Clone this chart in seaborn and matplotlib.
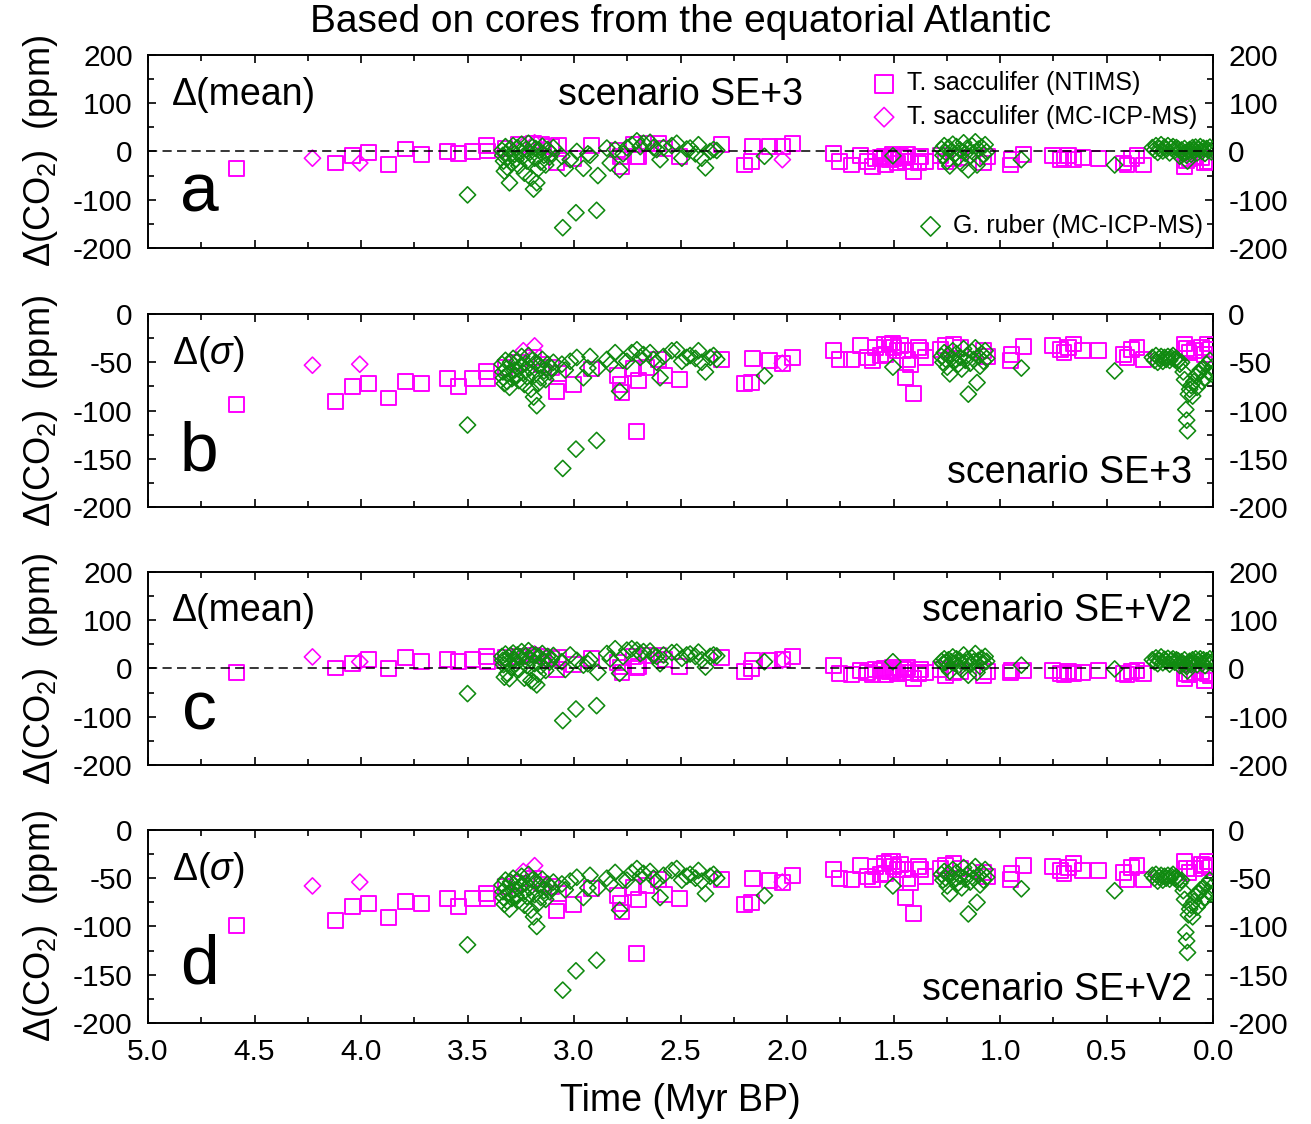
import matplotlib
matplotlib.use("Agg")
import matplotlib.pyplot as plt
from matplotlib.ticker import MultipleLocator, FormatStrFormatter
import pandas as pd
import seaborn as sns

# ---------------------------------------------------------------------------
# T. sacculifer (NTIMS): age (Myr BP) and Delta(CO2) (ppm) per scenario/statistic
# ---------------------------------------------------------------------------
ntims_age = [4.583, 4.119, 4.038, 3.966, 3.872, 3.793, 3.718, 3.594, 3.541, 3.476,
             3.410, 3.405, 3.324, 3.261, 3.190, 3.152, 3.104, 3.073, 3.081, 3.003,
             2.916, 2.794, 2.783, 2.775, 2.720, 2.708, 2.698, 2.659, 2.604, 2.573,
             2.503, 2.306, 2.198, 2.168, 2.162, 2.081, 2.022, 1.976, 1.780, 1.754,
             1.696, 1.654, 1.624, 1.600, 1.585, 1.561, 1.545, 1.538, 1.520, 1.507,
             1.499, 1.483, 1.468, 1.452, 1.444, 1.436, 1.421, 1.405, 1.381, 1.374,
             1.350, 1.279, 1.256, 1.217, 1.186, 1.076, 1.060, 0.950, 0.945, 0.891,
             0.755, 0.716, 0.700, 0.677, 0.655, 0.615, 0.536, 0.420, 0.404, 0.381,
             0.357, 0.326, 0.136, 0.125, 0.113, 0.089, 0.054, 0.042, 0.026, 0.010]
ntims_mean_se3 = [-36, -24, -9, -2, -27, 5, -7, 0, -5, 0,
                  12, 1, 7, 14, 17, 14, 10, 12, -24, -14,
                  12, 3, -10, -31, 14, -10, -10, 17, 17, 7,
                  -10, 15, -28, -21, 10, 10, 10, 16, -5, -21,
                  -28, -9, -20, -31, -14, -12, -10, -28, -17, -7,
                  -15, -24, -10, -12, -21, -7, -20, -41, -24, -10,
                  -21, -9, -21, -15, -12, -24, -10, -28, -17, -7,
                  -9, -17, -14, -9, -17, -12, -14, -24, -28, -14,
                  -9, -28, -31, -18, -14, -10, -12, -24, -20, -21]
ntims_sigma_se3 = [-94, -91, -75, -72, -87, -70, -72, -67, -75, -67,
                   -60, -67, -55, -50, -45, -52, -55, -62, -80, -73,
                   -57, -64, -73, -81, -56, -122, -69, -55, -47, -64,
                   -68, -47, -72, -71, -46, -48, -51, -45, -38, -47,
                   -47, -33, -45, -48, -35, -43, -32, -42, -31, -30,
                   -35, -38, -33, -38, -66, -47, -52, -82, -35, -38,
                   -45, -37, -33, -31, -35, -38, -44, -48, -42, -34,
                   -33, -37, -40, -35, -31, -38, -38, -42, -45, -37,
                   -35, -47, -31, -36, -40, -38, -35, -42, -31, -37]
ntims_mean_sev2 = [-8, 1, 10, 19, 0, 23, 14, 19, 14, 19,
                   24, 14, 22, 25, 28, 26, 20, 22, -3, 8,
                   20, 12, 3, -8, 25, 1, 5, 27, 28, 18,
                   5, 22, -7, 0, 17, 17, 19, 24, 7, -10,
                   -12, -5, -8, -12, -3, -5, 0, -12, -6, 2,
                   -4, -10, 0, -3, -8, 2, -8, -20, -10, -2,
                   -8, -3, -15, -8, -6, -15, -7, -8, -4, -5,
                   -5, -10, -12, -6, -10, -8, -5, -10, -12, -7,
                   -5, -10, -21, -10, -12, -8, -7, -24, -10, -14]
ntims_sigma_sev2 = [-99, -94, -79, -76, -91, -74, -76, -71, -79, -71,
                    -66, -71, -59, -55, -50, -56, -59, -66, -84, -77,
                    -61, -68, -76, -85, -60, -128, -72, -58, -51, -67,
                    -71, -51, -77, -75, -50, -52, -54, -47, -41, -50,
                    -51, -37, -48, -51, -38, -46, -35, -45, -33, -33,
                    -38, -41, -36, -41, -70, -50, -55, -87, -38, -41,
                    -48, -40, -37, -35, -40, -44, -48, -51, -45, -37,
                    -38, -42, -45, -39, -35, -42, -42, -44, -51, -39,
                    -37, -51, -33, -40, -44, -40, -36, -37, -33, -39]

# ---------------------------------------------------------------------------
# T. sacculifer (MC-ICP-MS)
# ---------------------------------------------------------------------------
sacc_icp_age = [4.228, 4.006, 3.238, 3.185, 2.022]
sacc_icp_mean_se3 = [-14, -24, 12, 18, -17]
sacc_icp_sigma_se3 = [-53, -52, -38, -33, -51]
sacc_icp_mean_sev2 = [24, 14, 25, 30, 17]
sacc_icp_sigma_sev2 = [-58, -54, -43, -37, -54]

# ---------------------------------------------------------------------------
# G. ruber (MC-ICP-MS)
# ---------------------------------------------------------------------------
ruber_age = [3.338, 3.334, 3.331, 3.327, 3.322, 3.318, 3.314, 3.309, 3.303, 3.298,
             3.292, 3.286, 3.279, 3.272, 3.266, 3.259, 3.252, 3.246, 3.239, 3.233,
             3.227, 3.221, 3.214, 3.208, 3.202, 3.196, 3.190, 3.185, 3.180, 3.175,
             3.168, 3.163, 3.156, 3.149, 3.141, 3.133, 3.124, 3.115, 3.106, 3.097,
             3.057, 3.041, 3.018, 2.987, 2.956, 2.935, 2.925, 2.888, 2.846, 2.830,
             2.807, 2.786, 2.770, 2.752, 2.729, 2.705, 2.689, 2.674, 2.643, 2.627,
             2.612, 2.596, 2.580, 2.541, 2.518, 2.494, 2.471, 2.455, 2.430, 2.416,
             2.400, 2.383, 2.361, 2.345, 2.330, 2.106,
             3.500, 3.053, 2.991, 2.894, 1.503,
             1.275, 1.268, 1.262, 1.255, 1.248, 1.242, 1.236, 1.229, 1.222, 1.214,
             1.205, 1.196, 1.188, 1.180, 1.171, 1.163, 1.155, 1.149, 1.140, 1.132,
             1.124, 1.116, 1.108, 1.101, 1.094, 1.086, 1.078, 1.070, 1.063,
             0.900, 0.462,
             0.285, 0.275, 0.268, 0.260, 0.252, 0.244, 0.236, 0.228, 0.220, 0.212,
             0.204, 0.196, 0.188, 0.180, 0.172, 0.164, 0.156, 0.148, 0.140, 0.134,
             0.128, 0.124, 0.120, 0.116, 0.110, 0.103, 0.096, 0.090, 0.082, 0.075,
             0.068, 0.060, 0.052, 0.045, 0.038, 0.030, 0.022, 0.015, 0.008, 0.003]
ruber_mean_se3 = [2, -8, -20, -41, 10, -4, -33, -12, -65, 5,
                  -25, 12, -6, -16, 8, -30, 0, 15, -10, -45,
                  4, -20, 17, -2, -55, 9, -78, -14, 6, -65,
                  -36, 2, -22, 11, -8, -28, 4, -12, -4, 8,
                  -10, -35, -17, 0, -35, -5, -8, -50, 7, -24,
                  4, -38, -5, 8, 14, 22, 10, 17, 19, 8,
                  4, -17, 8, 12, 17, -14, 5, 7, -5, 14,
                  -14, -34, 0, 4, 2, -10,
                  -90, -158, -127, -122, -9,
                  5, -8, 12, -2, -20, 8, -30, 0, 15, -6,
                  10, -12, 3, -25, 18, -4, 7, -38, -10, 12,
                  -3, 20, -28, 5, -15, 9, -6, 14, -1,
                  -17, -28,
                  8, 3, 12, -2, 6, 14, 1, 9, 4, 12,
                  -3, 7, 10, 2, 8, 5, -10, 3, -5, 6,
                  -2, -8, -20, 1, 4, -6, 8, 2, 9, -3,
                  5, 10, 0, 7, -4, 6, 2, 9, -1, 4]
ruber_sigma_se3 = [-52, -60, -66, -72, -48, -57, -70, -62, -76, -50,
                   -67, -46, -58, -64, -49, -69, -54, -44, -61, -73,
                   -51, -65, -43, -56, -78, -48, -86, -63, -50, -95,
                   -72, -53, -66, -47, -59, -68, -52, -60, -56, -50,
                   -52, -58, -49, -45, -66, -56, -44, -56, -47, -52,
                   -40, -80, -48, -49, -40, -37, -45, -42, -40, -47,
                   -50, -66, -44, -38, -37, -49, -45, -43, -46, -38,
                   -50, -60, -45, -43, -47, -64,
                   -115, -160, -140, -131, -55,
                   -44, -50, -40, -47, -55, -42, -62, -46, -38, -49,
                   -41, -52, -45, -57, -36, -48, -43, -83, -51, -39,
                   -47, -35, -71, -44, -54, -41, -49, -38, -46,
                   -56, -59,
                   -45, -48, -43, -50, -46, -44, -49, -45, -47, -44,
                   -48, -45, -43, -47, -46, -48, -52, -50, -60, -68,
                   -99, -110, -121, -83, -78, -74, -85, -70, -64, -76,
                   -62, -58, -70, -56, -66, -52, -60, -48, -62, -55]
ruber_mean_sev2 = [25, 17, 8, -18, 30, 20, -10, 12, -21, 27,
                   3, 32, 18, 10, 28, -2, 24, 35, 14, -20,
                   26, 6, 37, 21, -25, 30, -28, 10, 28, -34,
                   -12, 24, 5, 31, 16, -4, 25, 13, 20, 27,
                   14, -2, 28, 17, 7, 10, 18, -8, 31, 20,
                   41, -10, 25, 38, 41, 38, 31, 35, 36, 27,
                   25, 10, 28, 33, 34, 21, 28, 30, 25, 34,
                   18, 3, 25, 28, 26, 14,
                   -52, -108, -84, -77, 14,
                   15, 10, 20, 13, 3, 18, -6, 14, 24, 11,
                   20, 6, 16, -2, 28, 12, 19, -14, 8, 22,
                   14, 31, -8, 17, 4, 21, 11, 25, 15,
                   7, -1,
                   18, 14, 22, 10, 17, 24, 12, 19, 15, 21,
                   9, 17, 20, 13, 18, 16, 6, 14, 10, 18,
                   8, 4, -5, 12, 15, 8, 18, 12, 20, 8,
                   16, 20, 10, 18, 6, 16, 14, 20, 12, 15]
ruber_sigma_sev2 = [-57, -64, -70, -77, -52, -60, -74, -66, -82, -54,
                    -71, -50, -62, -68, -53, -73, -58, -48, -65, -78,
                    -55, -69, -46, -60, -83, -52, -90, -67, -53, -100,
                    -76, -57, -70, -51, -63, -72, -56, -64, -60, -54,
                    -56, -62, -53, -49, -70, -60, -47, -60, -50, -56,
                    -44, -83, -52, -52, -44, -40, -48, -45, -43, -50,
                    -53, -70, -47, -42, -40, -52, -48, -46, -50, -42,
                    -53, -66, -48, -46, -50, -68,
                    -119, -166, -146, -135, -58,
                    -46, -52, -43, -50, -58, -45, -66, -49, -41, -52,
                    -44, -55, -48, -60, -39, -51, -46, -87, -54, -42,
                    -50, -38, -75, -47, -57, -44, -52, -41, -49,
                    -61, -63,
                    -47, -50, -46, -53, -49, -47, -52, -48, -50, -47,
                    -51, -48, -46, -50, -49, -51, -55, -52, -63, -72,
                    -106, -115, -127, -88, -82, -78, -90, -74, -68, -80,
                    -66, -62, -74, -60, -70, -56, -64, -52, -66, -58]

# Panel captions
panel_tags = ["a", "b", "c", "d"]
panel_stats = ["Δ(mean)", "Δ($\\sigma$)", "Δ(mean)", "Δ($\\sigma$)"]
panel_scenarios = ["scenario SE+3", "scenario SE+3", "scenario SE+V2", "scenario SE+V2"]
series_labels = ["T. sacculifer (NTIMS)", "T. sacculifer (MC-ICP-MS)", "G. ruber (MC-ICP-MS)"]

# ---------------------------------------------------------------------------
# Long-format tables
# ---------------------------------------------------------------------------
panel_keys = ["mean_se3", "sigma_se3", "mean_sev2", "sigma_sev2"]


def long_table(age, *cols):
    frames = []
    for key, vals in zip(panel_keys, cols):
        frames.append(pd.DataFrame({"age": age, "panel": key, "dco2": vals}))
    return pd.concat(frames, ignore_index=True)


ntims = long_table(ntims_age, ntims_mean_se3, ntims_sigma_se3,
                   ntims_mean_sev2, ntims_sigma_sev2)
sacc_icp = long_table(sacc_icp_age, sacc_icp_mean_se3, sacc_icp_sigma_se3,
                      sacc_icp_mean_sev2, sacc_icp_sigma_sev2)
ruber = long_table(ruber_age, ruber_mean_se3, ruber_sigma_se3,
                   ruber_mean_sev2, ruber_sigma_sev2)

# ---------------------------------------------------------------------------
# Style
# ---------------------------------------------------------------------------
sns.set_style("ticks")
plt.rcParams["font.family"] = ["Liberation Sans", "DejaVu Sans"]
plt.rcParams["mathtext.fontset"] = "custom"
plt.rcParams["mathtext.rm"] = "Liberation Sans"
plt.rcParams["mathtext.it"] = "Liberation Sans:italic"
plt.rcParams["mathtext.bf"] = "Liberation Sans:bold"
plt.rcParams["axes.unicode_minus"] = False
for k in ["text.color", "axes.labelcolor", "xtick.color", "ytick.color", "axes.edgecolor"]:
    plt.rcParams[k] = "black"

MAGENTA = "#ff00ff"
GREEN = "#108a10"

fig = plt.figure(figsize=(13.11, 11.24), dpi=100)
left, width, height = 0.1129, 0.8124, 0.1717
bottoms = [0.7794, 0.5489, 0.3194, 0.0899]
axes = [fig.add_axes([left, b, width, height]) for b in bottoms]

stat_y = [0.79, 0.795, 0.80, 0.795]
tag_y = [0.28, 0.285, 0.275, 0.30]
scen_xy = [(0.5, 0.79, "center"), (0.98, 0.176, "right"),
           (0.98, 0.80, "right"), (0.98, 0.171, "right")]

for i, (ax, key) in enumerate(zip(axes, panel_keys)):
    is_mean = key.startswith("mean")
    sns.scatterplot(data=ntims[ntims.panel == key], x="age", y="dco2", ax=ax,
                    marker="s", s=115, facecolor="none", edgecolor=MAGENTA,
                    linewidth=1.4, legend=False, label=series_labels[0], zorder=3)
    sns.scatterplot(data=sacc_icp[sacc_icp.panel == key], x="age", y="dco2", ax=ax,
                    marker="D", s=68, facecolor="none", edgecolor=MAGENTA,
                    linewidth=1.15, legend=False, label=series_labels[1], zorder=4)
    sns.scatterplot(data=ruber[ruber.panel == key], x="age", y="dco2", ax=ax,
                    marker="D", s=68, facecolor="none", edgecolor=GREEN,
                    linewidth=1.15, legend=False, label=series_labels[2], zorder=4)

    ax.set_xlim(5, 0)
    if is_mean:
        ax.set_ylim(-200, 200)
        ax.yaxis.set_major_locator(MultipleLocator(100))
        ax.yaxis.set_minor_locator(MultipleLocator(50))
        ax.axhline(0, color="black", lw=1.1, ls=(0, (6, 3.5)), zorder=5)
    else:
        ax.set_ylim(-200, 0)
        ax.yaxis.set_major_locator(MultipleLocator(50))
        ax.yaxis.set_minor_locator(MultipleLocator(25))
    ax.xaxis.set_major_locator(MultipleLocator(0.5))
    ax.xaxis.set_minor_locator(MultipleLocator(0.25))
    ax.xaxis.set_major_formatter(FormatStrFormatter("%.1f"))

    ax.tick_params(which="both", direction="in", top=True, right=True,
                   labelright=True, labelsize=21.5, width=1.2, pad=11,
                   labelbottom=(i == 3), color="black", labelcolor="black")
    ax.tick_params(which="major", length=6)
    ax.tick_params(which="minor", length=4)
    for sp in ax.spines.values():
        sp.set_linewidth(1.4)
        sp.set_color("black")

    ax.set_ylabel("Δ(CO$_2$)  (ppm)", fontsize=26, color="black")
    ax.yaxis.set_label_coords(-0.083, 0.5)
    if i == 3:
        ax.set_xlabel("Time (Myr BP)", fontsize=27, color="black")
        ax.xaxis.set_label_coords(0.5, -0.31)
    else:
        ax.set_xlabel("")

    ax.text(0.0225, stat_y[i], panel_stats[i], transform=ax.transAxes,
            fontsize=27, ha="left", va="center", color="black")
    ax.text(0.048, tag_y[i], panel_tags[i], transform=ax.transAxes,
            fontsize=50, ha="center", va="center", color="black")
    sx, sy, sha = scen_xy[i]
    ax.text(sx, sy, panel_scenarios[i], transform=ax.transAxes,
            fontsize=27, ha=sha, va="center", color="black")

# Legends in the top panel
handles, labels = axes[0].get_legend_handles_labels()
leg_kw = dict(frameon=False, fontsize=18, handlelength=0.8, handletextpad=0.5,
              labelspacing=0.38, borderpad=0.2, scatterpoints=1,
              markerscale=1.2, labelcolor="black")
leg_top = axes[0].legend(handles[:2], labels[:2], loc="upper right",
                         borderaxespad=0.45, **leg_kw)
axes[0].add_artist(leg_top)
axes[0].legend(handles[2:3], labels[2:3], loc="lower right",
               borderaxespad=0.2, **leg_kw)

fig.text(680.5 / 1311, 1 - 22 / 1124, "Based on cores from the equatorial Atlantic",
         fontsize=28, ha="center", va="center", color="black")

fig.savefig("out.png", dpi=100, facecolor="white")
